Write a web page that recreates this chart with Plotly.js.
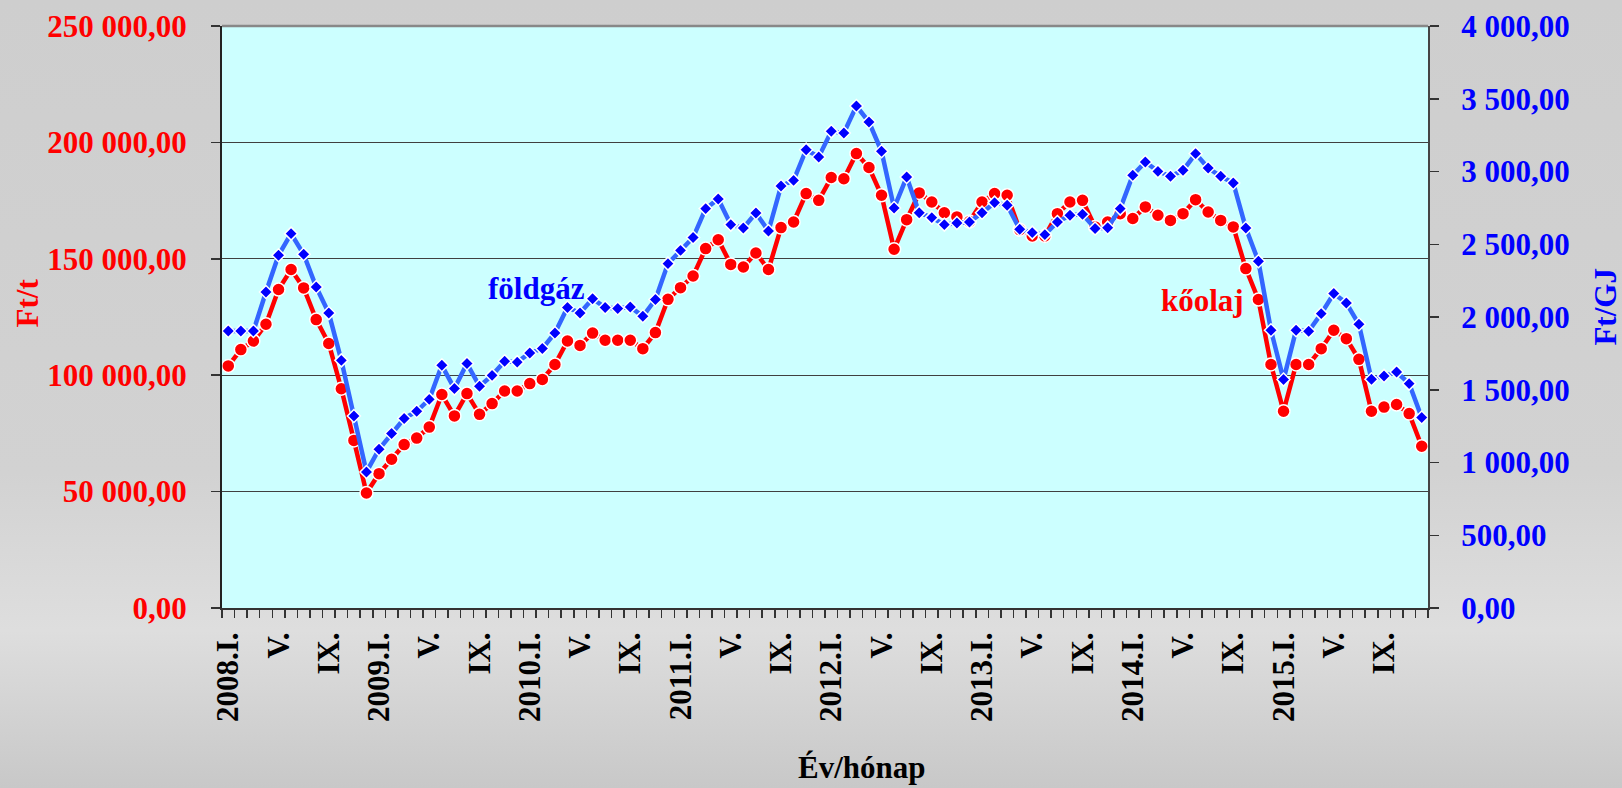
<!DOCTYPE html>
<html>
<head>
<meta charset="utf-8">
<script src="https://cdn.plot.ly/plotly-3.0.1.min.js"></script>
<style>
  html, body { margin: 0; padding: 0; }
  body {
    width: 1622px; height: 788px; overflow: hidden;
    background: linear-gradient(to bottom, #cecece 0%, #d2d2d2 60%, #dedede 80%, #c8c8c8 100%);
  }
  #chart { width: 1622px; height: 788px; }
</style>
</head>
<body>
<div id="chart"></div>
<script>
// ---- data ----
const years = [2008, 2009, 2010, 2011, 2012, 2013, 2014, 2015];
const romanMonths = ["I.", "II.", "III.", "IV.", "V.", "VI.", "VII.", "VIII.", "IX.", "X.", "XI.", "XII."];
const labeledMonths = ["I.", "V.", "IX."];

// kőolaj, Ft/t (left axis)
const oilPrice = [
  104000, 111000, 114700, 121900, 136800, 145400, 137500, 123900, 113600, 94200, 72000, 49400,
  57700, 63900, 70200, 73000, 77700, 91700, 82500, 92100, 83200, 87800, 93200, 93200,
  96400, 98200, 104600, 114700, 112800, 118100, 115000, 115000, 115000, 111400, 118300, 132600,
  137600, 142600, 154400, 158200, 147600, 146500, 152500, 145400, 163400, 165800, 178000, 175100,
  184900, 184400, 195200, 189200, 177300, 154100, 166800, 178300, 174400, 169800, 168000, 166000,
  174400, 178000, 177300, 162500, 159800, 159800, 169400, 174400, 175100, 163700, 165800, 169400,
  167300, 172300, 168700, 166500, 169400, 175400, 170100, 166500, 163700, 145800, 132500, 104600,
  84500, 104600, 104600, 111400, 119300, 115700, 106800, 84500, 86300, 87400, 83500, 69500
];

// földgáz, Ft/GJ (right axis)
const gasPrice = [
  1904, 1904, 1904, 2172, 2424, 2573, 2431, 2206, 2027, 1702, 1320, 935,
  1091, 1199, 1302, 1352, 1434, 1668, 1508, 1680, 1524, 1599, 1696, 1690,
  1753, 1783, 1890, 2065, 2027, 2126, 2065, 2058, 2069, 2005, 2120, 2367,
  2458, 2546, 2745, 2811, 2635, 2612, 2715, 2591, 2900, 2939, 3150, 3100,
  3276, 3265, 3450, 3340, 3139, 2749, 2962, 2717, 2683, 2635, 2646, 2653,
  2717, 2786, 2768, 2603, 2580, 2566, 2653, 2699, 2706, 2608, 2614, 2745,
  2974, 3065, 3001, 2967, 3008, 3123, 3024, 2967, 2921, 2612, 2383, 1909,
  1570, 1909, 1902, 2023, 2161, 2096, 1950, 1572, 1595, 1622, 1542, 1309
];

// categories and tick labels
const categories = [];
const tickLabels = [];
years.forEach(function (y) {
  romanMonths.forEach(function (m) {
    categories.push(y + "." + m);
    if (m === "I.") tickLabels.push(y + "." + m);
    else if (labeledMonths.indexOf(m) >= 0) tickLabels.push(m);
    else tickLabels.push("");
  });
});

const serif = '"Liberation Serif", "Times New Roman", Times, serif';

const traces = [
  {
    x: categories, y: oilPrice, name: "kőolaj", type: "scatter", mode: "lines+markers",
    yaxis: "y",
    line: { color: "#FF0000", width: 4.5 },
    marker: { symbol: "circle", size: 13, color: "#FF0000", line: { color: "#FFFFFF", width: 1.5 } },
    hoverinfo: "skip"
  },
  {
    x: categories, y: gasPrice, name: "földgáz", type: "scatter", mode: "lines+markers",
    yaxis: "y2",
    line: { color: "#3366FF", width: 4.5 },
    marker: { symbol: "diamond", size: 10, color: "#0000FF", line: { color: "#FFFFFF", width: 1.5 } },
    hoverinfo: "skip"
  }
];

const layout = {
  width: 1622, height: 788,
  paper_bgcolor: "rgba(0,0,0,0)",
  plot_bgcolor: "#CCFFFF",
  showlegend: false,
  separators: ", ",
  margin: { l: 222, r: 194, t: 26, b: 180, pad: 0 },
  font: { family: serif, size: 30, color: "#000000" },
  xaxis: {
    type: "category",
    tickmode: "array",
    tickvals: categories,
    ticktext: tickLabels,
    tickangle: -90,
    tickson: "boundaries",
    ticks: "outside", ticklen: 8, tickwidth: 1.5, tickcolor: "#333333",
    tickfont: { family: serif, size: 31, color: "#000000", weight: 700 },
    ticklabelstandoff: 10,
    showline: true, linecolor: "#333333", linewidth: 2,
    showgrid: false, zeroline: false,
    range: [-0.5, categories.length - 0.5]
  },
  yaxis: {
    range: [0, 250000], dtick: 50000, tick0: 0,
    tickformat: ",.2f",
    ticks: "outside", ticklen: 9, tickwidth: 1.5, tickcolor: "#333333",
    tickfont: { family: serif, size: 31, color: "#FF0000", weight: 700 },
    ticklabelstandoff: 18,
    showline: true, linecolor: "#222222", linewidth: 2,
    showgrid: true, gridcolor: "#404040", gridwidth: 1.2,
    zeroline: false
  },
  yaxis2: {
    overlaying: "y", side: "right",
    range: [0, 4000], dtick: 500, tick0: 0,
    tickformat: ",.2f",
    ticks: "outside", ticklen: 9, tickwidth: 1.5, tickcolor: "#333333",
    tickfont: { family: serif, size: 31, color: "#0000FF", weight: 700 },
    ticklabelstandoff: 16,
    showline: true, linecolor: "#444444", linewidth: 2,
    showgrid: false, zeroline: false
  },
  shapes: [
    { type: "line", xref: "paper", yref: "paper", x0: 0, x1: 1, y0: 1, y1: 1,
      line: { color: "#888888", width: 2.5 } }
  ],
  annotations: [
    { text: "földgáz", xref: "paper", yref: "paper", x: 0.2604, y: 0.549,
      xanchor: "center", yanchor: "middle", showarrow: false,
      font: { family: serif, size: 31, color: "#0000FF", weight: 700 } },
    { text: "kőolaj", xref: "paper", yref: "paper", x: 0.8134, y: 0.5287,
      xanchor: "center", yanchor: "middle", showarrow: false,
      font: { family: serif, size: 31, color: "#FF0000", weight: 700 } },
    { text: "Ft/t", xref: "paper", yref: "paper", x: -0.1617, y: 0.525,
      xanchor: "center", yanchor: "middle", showarrow: false, textangle: -90,
      font: { family: serif, size: 31, color: "#FF0000", weight: 700 } },
    { text: "Ft/GJ", xref: "paper", yref: "paper", x: 1.1468, y: 0.518,
      xanchor: "center", yanchor: "middle", showarrow: false, textangle: -90,
      font: { family: serif, size: 31, color: "#0000FF", weight: 700 } },
    { text: "Év/hónap", xref: "paper", yref: "paper", x: 0.5307, y: -0.2745,
      xanchor: "center", yanchor: "middle", showarrow: false,
      font: { family: serif, size: 31, color: "#000000", weight: 700 } }
  ]
};

Plotly.newPlot("chart", traces, layout, { displayModeBar: false, staticPlot: true });
</script>
</body>
</html>
